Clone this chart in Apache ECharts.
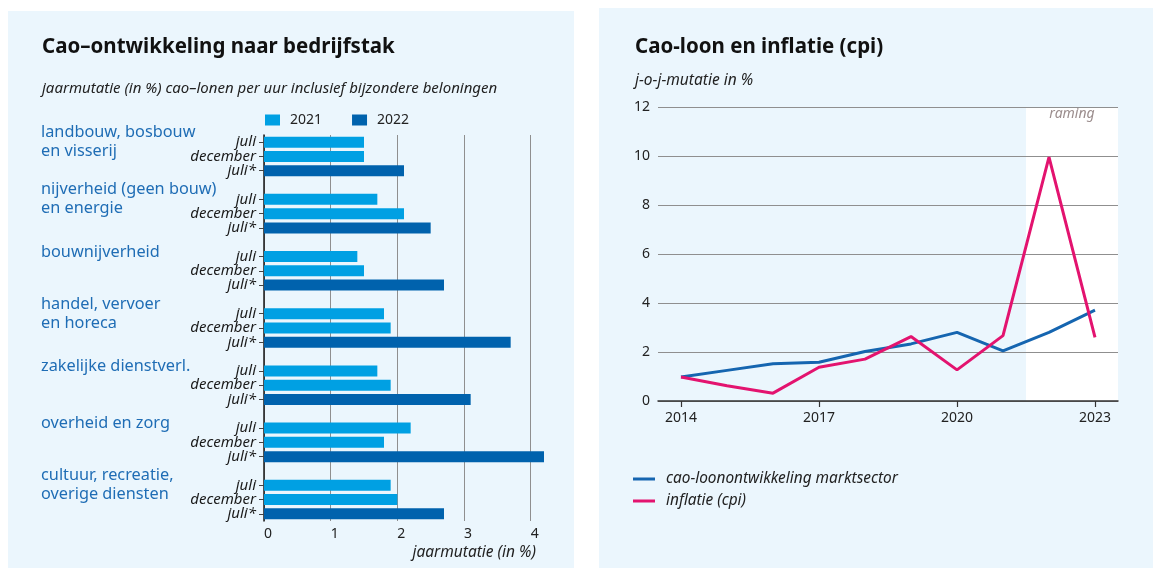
<!DOCTYPE html>
<html>
<head>
<meta charset="utf-8">
<script src="https://cdn.jsdelivr.net/npm/echarts@6/dist/echarts.min.js"></script>
<style>
  html, body { margin: 0; padding: 0; background: #ffffff; }
  #chart { width: 1153px; height: 570px; }
</style>
</head>
<body>
<div id="chart"></div>
<script>
// ---------- data: left chart ----------
const sectors = [
  'landbouw, bosbouw\nen visserij',
  'nijverheid (geen bouw)\nen energie',
  'bouwnijverheid',
  'handel, vervoer\nen horeca',
  'zakelijke dienstverl.',
  'overheid en zorg',
  'cultuur, recreatie,\noverige diensten'
];
const periods = ['juli', 'december', 'juli*'];
const juli2021 = [1.5, 1.7, 1.4, 1.8, 1.7, 2.2, 1.9];
const december2021 = [1.5, 2.1, 1.5, 1.9, 1.9, 1.8, 2.0];
const juli2022 = [2.1, 2.5, 2.7, 3.7, 3.1, 4.2, 2.7];
const barSeriesNames = ['2021', '2022'];
const barTicks = [0, 1, 2, 3, 4];

// ---------- data: right chart ----------
const years = [2014, 2015, 2016, 2017, 2018, 2019, 2020, 2021, 2022, 2023];
const caoLoon = [0.98, 1.25, 1.52, 1.58, 2.02, 2.33, 2.8, 2.05, 2.8, 3.71];
const inflatie = [0.98, 0.62, 0.32, 1.38, 1.71, 2.63, 1.27, 2.67, 9.95, 2.6];
const yearLabels = [2014, 2017, 2020, 2023];
const ramingStart = 2021.5;
const lineSeriesNames = ['cao-loonontwikkeling marktsector', 'inflatie (cpi)'];

// ---------- build slot structure ----------
const slotLabels = [];
const slotGroups = [];
const s2021 = [];
const s2022 = [];
sectors.forEach((name, g) => {
  periods.forEach((p, i) => {
    slotLabels.push(p);
    slotGroups.push(i === 0 ? name : '');
    if (i === 0) { s2021.push(juli2021[g]); s2022.push('-'); }
    else if (i === 1) { s2021.push(december2021[g]); s2022.push('-'); }
    else { s2021.push('-'); s2022.push(juli2022[g]); }
  });
  if (g < sectors.length - 1) {
    slotLabels.push(''); slotGroups.push(''); s2021.push('-'); s2022.push('-');
  }
});

const FONT = 'Noto Sans';
const C2021 = '#00a0e3';
const C2022 = '#0062ad';
const CBLUE = '#1565b0';
const CPINK = '#e3136f';
const PANEL = '#ebf6fd';

const chart = echarts.init(document.getElementById('chart'), null, { renderer: 'canvas' });

const option = {
  animation: false,
  backgroundColor: '#ffffff',
  textStyle: { fontFamily: FONT },
  graphic: [
    { type: 'rect', z: -10, shape: { x: 8, y: 11, width: 566, height: 557 }, style: { fill: PANEL } },
    { type: 'rect', z: -10, shape: { x: 599, y: 8, width: 554, height: 560 }, style: { fill: PANEL } }
  ],
  title: [
    {
      text: 'Cao\u2013ontwikkeling naar bedrijfstak',
      left: 37, top: 32,
      textStyle: { fontFamily: FONT, fontWeight: 'bold', fontSize: 20.5, color: '#111111' }
    },
    {
      text: 'jaarmutatie (in %) cao\u2013lonen per uur inclusief bijzondere beloningen',
      left: 37, top: 76,
      textStyle: { fontFamily: FONT, fontStyle: 'italic', fontWeight: 'normal', fontSize: 15, color: '#222222' }
    },
    {
      text: 'Cao-loon en inflatie (cpi)',
      left: 630, top: 32,
      textStyle: { fontFamily: FONT, fontWeight: 'bold', fontSize: 20.5, color: '#111111' }
    },
    {
      text: 'j-o-j-mutatie in %',
      left: 630, top: 68,
      textStyle: { fontFamily: FONT, fontStyle: 'italic', fontWeight: 'normal', fontSize: 15.5, color: '#222222' }
    }
  ],
  legend: [
    {
      data: barSeriesNames,
      left: 260, top: 108,
      itemWidth: 15, itemHeight: 11, itemGap: 30,
      icon: 'rect',
      textStyle: { fontFamily: FONT, fontSize: 14, color: '#222222', padding: [0, 0, 0, 5] }
    },
    {
      data: lineSeriesNames,
      orient: 'vertical',
      left: 628, top: 464,
      icon: 'rect',
      itemWidth: 22, itemHeight: 3, itemGap: 2,
      textStyle: { fontFamily: FONT, fontStyle: 'italic', fontSize: 15.4, color: '#222222', padding: [0, 0, 0, 6], lineHeight: 20 }
    }
  ],
  grid: [
    { left: 264, top: 135, width: 280, bottom: 49, containLabel: false },
    { left: 658, top: 107, right: 35, bottom: 169, containLabel: false }
  ],
  xAxis: [
    {
      gridIndex: 0, type: 'value', min: 0, max: 4.2, interval: 1,
      axisLine: { show: false }, axisTick: { show: false },
      splitLine: { show: true, showMaxLine: false, lineStyle: { color: '#8f8f8f', width: 1 } },
      axisLabel: {
        customValues: barTicks, align: 'left', margin: 6,
        fontFamily: FONT, fontSize: 14, color: '#222222'
      },
      name: 'jaarmutatie (in %)', nameLocation: 'end', nameGap: -8,
      nameTextStyle: {
        fontFamily: FONT, fontStyle: 'italic', fontSize: 15.5, color: '#222222',
        align: 'right', verticalAlign: 'top', padding: [24, 0, 0, 0]
      }
    },
    {
      gridIndex: 1, type: 'value', min: 2013.5, max: 2023.5, z: 2,
      axisLine: { show: true, onZero: false, lineStyle: { color: '#333333', width: 1.5 } },
      axisTick: { show: true, customValues: yearLabels, length: 6, lineStyle: { color: '#333333', width: 1.2 } },
      splitLine: { show: false },
      axisLabel: {
        customValues: yearLabels, margin: 10,
        fontFamily: FONT, fontSize: 14, color: '#222222',
        formatter: v => String(v)
      }
    }
  ],
  yAxis: [
    {
      gridIndex: 0, type: 'category', inverse: true, position: 'left',
      data: slotLabels,
      axisLine: { show: true, lineStyle: { color: '#1a1a1a', width: 1.5 } },
      axisTick: {
        show: true, alignWithLabel: true, length: 5,
        interval: (idx, val) => val !== '',
        lineStyle: { color: '#444444', width: 1 }
      },
      splitLine: { show: false },
      axisLabel: {
        interval: 0, margin: 8,
        fontFamily: FONT, fontStyle: 'italic', fontSize: 15, color: '#1a1a1a'
      }
    },
    {
      gridIndex: 0, type: 'category', inverse: true, position: 'left', offset: 0,
      data: slotGroups,
      axisLine: { show: false }, axisTick: { show: false }, splitLine: { show: false },
      axisLabel: {
        interval: 0, margin: 223, align: 'left', verticalAlign: 'middle',
        fontFamily: FONT, fontSize: 16.3, color: '#1f6db5', lineHeight: 19,
        formatter: v => (v && v.indexOf('\n') < 0) ? v + '\n{s|}' : v,
        rich: { s: { lineHeight: 9, fontSize: 1 } }
      }
    },
    {
      gridIndex: 1, type: 'value', min: 0, max: 12, interval: 2, z: 2,
      axisLine: { show: false }, axisTick: { show: false },
      splitLine: { show: true, lineStyle: { color: '#8f8f8f', width: 1 } },
      axisLabel: { margin: 8, fontFamily: FONT, fontSize: 14, color: '#222222' }
    }
  ],
  series: [
    {
      name: barSeriesNames[0], type: 'bar', xAxisIndex: 0, yAxisIndex: 0,
      stack: 'slot', barWidth: 11, data: s2021,
      itemStyle: { color: C2021 }
    },
    {
      name: barSeriesNames[1], type: 'bar', xAxisIndex: 0, yAxisIndex: 0,
      stack: 'slot', barWidth: 11, data: s2022,
      itemStyle: { color: C2022 }
    },
    {
      name: 'raming', type: 'line', xAxisIndex: 1, yAxisIndex: 2, z: 0, zlevel: 0,
      data: [], silent: true,
      markArea: {
        silent: true, z: 0,
        itemStyle: { color: '#ffffff' },
        label: {
          show: true, position: 'insideTop', distance: 0,
          fontFamily: FONT, fontStyle: 'italic', fontSize: 14, color: '#9b8d8d'
        },
        data: [[{ name: 'raming', xAxis: ramingStart }, { xAxis: 2023.5 }]]
      }
    },
    {
      name: lineSeriesNames[0], type: 'line', xAxisIndex: 1, yAxisIndex: 2, z: 3,
      showSymbol: false, symbol: 'none',
      data: years.map((y, i) => [y, caoLoon[i]]),
      lineStyle: { color: CBLUE, width: 3 }, itemStyle: { color: CBLUE }
    },
    {
      name: lineSeriesNames[1], type: 'line', xAxisIndex: 1, yAxisIndex: 2, z: 4,
      showSymbol: false, symbol: 'none',
      data: years.map((y, i) => [y, inflatie[i]]),
      lineStyle: { color: CPINK, width: 3 }, itemStyle: { color: CPINK }
    }
  ]
};
chart.setOption(option);
</script>
</body>
</html>
